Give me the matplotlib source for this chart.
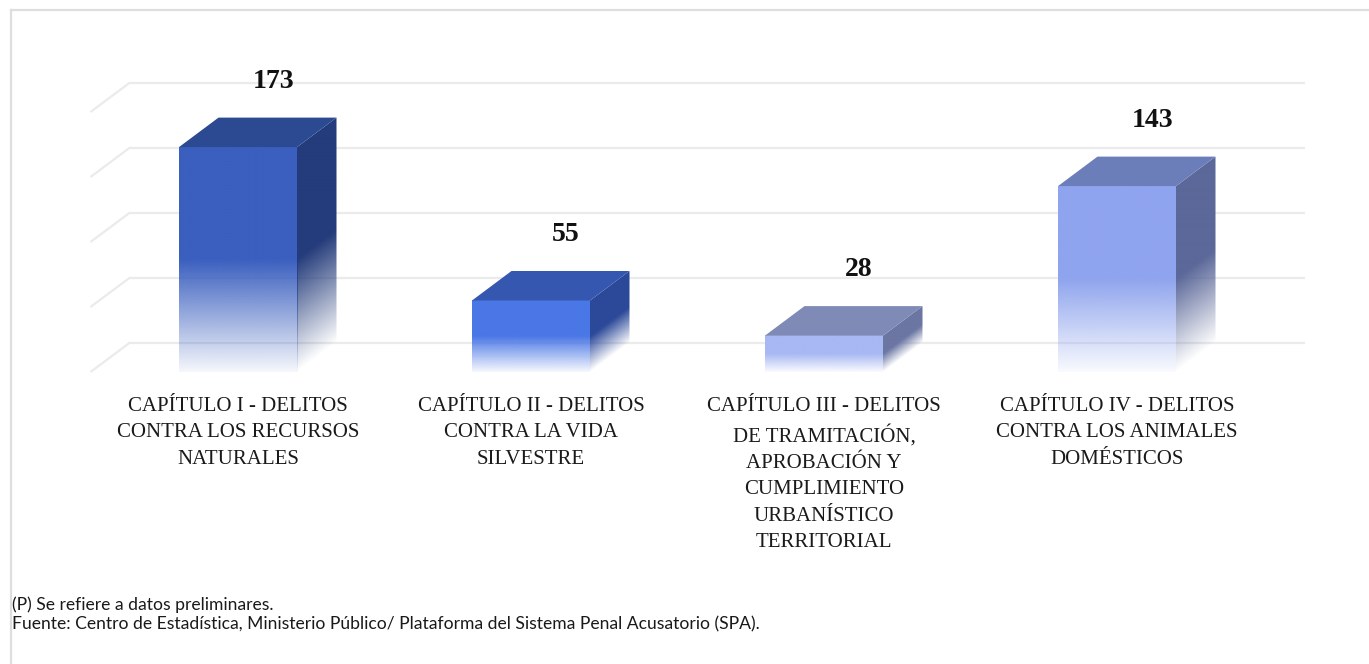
import numpy as np
import matplotlib
matplotlib.use("Agg")
import matplotlib.pyplot as plt
from matplotlib.patches import Polygon
from matplotlib.lines import Line2D
from matplotlib.colors import to_rgb

# ---------------- data ----------------
categories = [
    "CAPÍTULO I - DELITOS\nCONTRA LOS RECURSOS\nNATURALES",
    "CAPÍTULO II - DELITOS\nCONTRA LA VIDA\nSILVESTRE",
    "CAPÍTULO III - DELITOS\nDE TRAMITACIÓN,\nAPROBACIÓN Y\nCUMPLIMIENTO\nURBANÍSTICO\nTERRITORIAL",
    "CAPÍTULO IV - DELITOS\nCONTRA LOS ANIMALES\nDOMÉSTICOS",
]
values = [173, 55, 28, 143]
grid_ticks = [0, 50, 100, 150, 200]
front_colors = ["#3A5FBF", "#4A77E6", "#A7B8F3", "#8FA4EE"]
top_colors = ["#2C4A92", "#3557B0", "#7F8AB7", "#6C7EB9"]
side_colors = ["#243C7B", "#2C4999", "#6B76A3", "#5B6899"]
footnotes = [
    "(P) Se refiere a datos preliminares.",
    "Fuente: Centro de Estadística, Ministerio Público/ Plataforma del Sistema Penal Acusatorio (SPA).",
]

# ---------------- layout ----------------
W, H = 1369, 664
fig = plt.figure(figsize=(W / 100, H / 100), dpi=100)
ax = fig.add_axes([0, 0, 1, 1])
PX_X = 293.0   # pixels per category
PX_Y = 1.3     # pixels per value unit
X0 = 238.0     # pixel x of category 0 centre
Y0 = 372.0     # pixel y (from top) of value 0 on the front plane
xlim = (-X0 / PX_X, (W - X0) / PX_X)
ylim = ((Y0 - H) / PX_Y, Y0 / PX_Y)

bar_w = 118 / PX_X
dx = 39.5 / PX_X
dy = 29.5 / PX_Y
wall_left = (130 - X0) / PX_X
wall_right = (1305 - X0) / PX_X

# grid (back wall + left side wall)
grid_col = "#EBEBEB"
for g in grid_ticks:
    ax.plot([wall_left, wall_right], [g + dy, g + dy], color=grid_col, lw=1.6,
            zorder=1, solid_capstyle="butt")
    ax.plot([wall_left - dx, wall_left], [g, g + dy], color=grid_col, lw=1.6,
            zorder=1, solid_capstyle="butt")


def fade(t, floor):
    t = np.clip(t, 0, 1)
    a = np.where(t >= 0.5, 1.0, floor + (1 - floor) * (t / 0.5))
    return a


for i, v in enumerate(values):
    xl = i - bar_w / 2
    xr = i + bar_w / 2
    # front face with vertical fade
    n = 300
    t = np.linspace(1, 0, n)[:, None]
    rgb = np.array(to_rgb(front_colors[i]))
    img = np.zeros((n, 2, 4))
    img[..., :3] = rgb
    img[..., 3] = fade(t, 0.05) * np.ones((1, 2))
    ax.imshow(img, extent=[xl, xr, 0, v], aspect="auto", zorder=3,
              interpolation="bilinear")
    # side face (parallelogram) with skewed fade
    nx, ny = 60, 300
    xs = np.linspace(xr, xr + dx, nx)
    ys = np.linspace(v + dy, 0, ny)
    XX, YY = np.meshgrid(xs, ys)
    u = YY - (dy / dx) * (XX - xr)
    tt = u / v
    srgb = np.array(to_rgb(side_colors[i]))
    simg = np.zeros((ny, nx, 4))
    simg[..., :3] = srgb
    simg[..., 3] = fade(tt, 0.0)
    side_poly = Polygon([[xr, 0], [xr + dx, dy], [xr + dx, v + dy], [xr, v]],
                        closed=True, facecolor="none", edgecolor="none",
                        transform=ax.transData)
    ax.add_patch(side_poly)
    sim = ax.imshow(simg, extent=[xr, xr + dx, 0, v + dy], aspect="auto",
                    zorder=3, interpolation="bilinear")
    sim.set_clip_path(side_poly)
    # top face
    top = Polygon([[xl, v], [xr, v], [xr + dx, v + dy], [xl + dx, v + dy]],
                  closed=True, facecolor=top_colors[i], edgecolor="none", zorder=4)
    ax.add_patch(top)
    # value label
    ax.text(i + 0.12, v + dy + 28, f"{v}", ha="center", va="center",
            fontsize=20, fontweight="bold", family="Liberation Serif",
            color="#111111", zorder=5)
    # category label
    ax.text(i, (Y0 - 397) / PX_Y, categories[i], ha="center", va="top",
            fontsize=15, family="Liberation Serif", color="#1a1a1a",
            linespacing=1.52, zorder=5)

ax.set_xlim(*xlim)
ax.set_ylim(*ylim)
ax.axis("off")

# footnotes
fig.text(12 / W, 1 - 605 / H, footnotes[0], ha="left", va="center",
         fontsize=12.6, family="Lato", color="#1a1a1a")
fig.text(12 / W, 1 - 624 / H, footnotes[1], ha="left", va="center",
         fontsize=12.6, family="Lato", color="#1a1a1a")

# outer frame
fig.add_artist(Line2D([11 / W, 1], [1 - 9.5 / H, 1 - 9.5 / H], color="#DEDEDE",
                      lw=1.6, transform=fig.transFigure))
fig.add_artist(Line2D([11 / W, 11 / W], [0, 1 - 9.5 / H], color="#DEDEDE",
                      lw=1.6, transform=fig.transFigure))

fig.savefig("out.png", dpi=100, facecolor="white")
